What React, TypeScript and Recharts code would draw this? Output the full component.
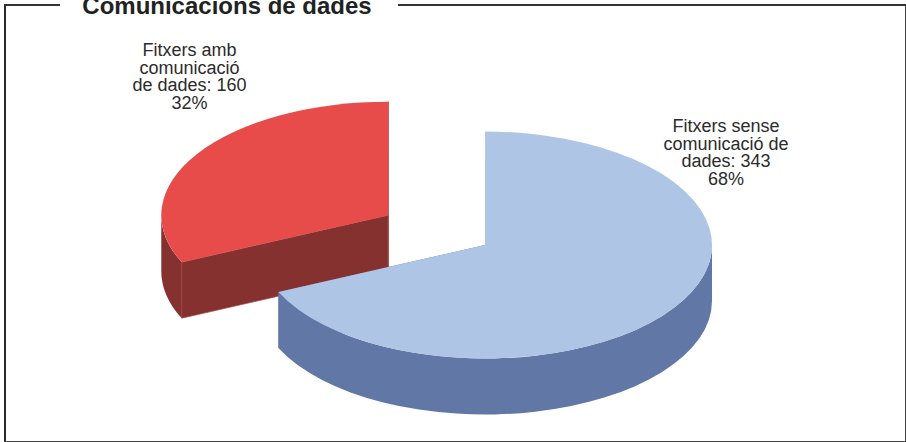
import React from "react";
import { PieChart, Pie } from "recharts";

const categories = ["Fitxers amb comunicació de dades", "Fitxers sense comunicació de dades"];
const values = [160, 343];
const topColors = ["#e84c4a", "#afc5e6"];
const wallColors = ["#853130", "#6177a5"];
const seamColors = ["#a94a48", "none"];
const labelLines = [
  ["Fitxers amb", "comunicació", "de dades: 160"],
  ["Fitxers sense", "comunicació de", "dades: 343"],
];
const title = "Comunicacions de dades";
const explode = [115, 0];

const rows = categories.map((name, i) => ({
  name,
  value: values[i],
  fill: topColors[i],
  wall: wallColors[i],
  seam: seamColors[i],
  explode: explode[i],
  lines: labelLines[i],
}));

const SQUASH = 0.5;
const EXPLODE_SQUASH = 0.48;
const DEPTH = 56;
const RAD = Math.PI / 180;

function Slice3D(props: any) {
  const { cx, cy, outerRadius: r, startAngle, endAngle, payload } = props;
  const row = payload ?? props;
  const start = Math.max(startAngle, endAngle);
  const end = Math.min(startAngle, endAngle);
  const mid = (start + end) / 2;
  const ox = (row.explode || 0) * Math.cos(mid * RAD);
  const oy = -(row.explode || 0) * EXPLODE_SQUASH * Math.sin(mid * RAD);
  const px = cx + ox;
  const py = cy + oy;
  const ry = r * SQUASH;
  const pt = (a: number, d = 0) => [px + r * Math.cos(a * RAD), py - ry * Math.sin(a * RAD) + d];
  const arc = (from: number, to: number, d = 0, sweep = 1) => {
    const [x, y] = pt(to, d);
    return `A${r} ${ry} 0 ${Math.abs(from - to) > 180 ? 1 : 0} ${sweep} ${x} ${y}`;
  };

  const walls: React.ReactNode[] = [];
  for (let k = -3; k <= 1; k++) {
    const hi = Math.min(start, 360 * k);
    const lo = Math.max(end, 360 * k - 180);
    if (hi > lo) {
      const [x0, y0] = pt(hi);
      const [x1, y1] = pt(lo, DEPTH);
      walls.push(
        <path
          key={"o" + k}
          fill={row.wall}
          d={`M${x0} ${y0} ${arc(hi, lo)} L${x1} ${y1} ${arc(lo, hi, DEPTH, 0)} Z`}
        />
      );
    }
  }
  const radial = (a: number, key: string) => {
    const [x, y] = pt(a);
    return (
      <path
        key={key}
        fill={row.wall}
        stroke={row.seam}
        strokeWidth={0.7}
        d={`M${px} ${py} L${x} ${y} L${x} ${y + DEPTH} L${px} ${py + DEPTH} Z`}
      />
    );
  };
  const [sx, sy] = pt(start);
  const [ex, ey] = pt(end);
  return (
    <g>
      {radial(start, "rs")}
      {radial(end, "re")}
      {walls}
      <path fill={row.fill} d={`M${px} ${py} L${sx} ${sy} ${arc(start, end)} L${ex} ${ey} Z`} />
    </g>
  );
}

const labelCentres = [
  { dx: -295.5, dy: -189 },
  { dx: 241, dy: -113 },
];

function renderLabel(props: any) {
  const { cx, cy, index, percent, payload } = props;
  const place = labelCentres[index];
  const row = payload ?? props;
  const lines: string[] = [...row.lines, `${Math.round(percent * 100)}%`];
  return (
    <text
      x={cx + place.dx}
      y={cy + place.dy}
      textAnchor="middle"
      fontFamily="'Liberation Sans', Arial, sans-serif"
      fontSize={18}
      fill="#2b2b2b"
      stroke="none"
    >
      {lines.map((l, i) => (
        <tspan key={i} x={cx + place.dx} dy={i === 0 ? 0 : 17.7}>
          {l}
        </tspan>
      ))}
    </text>
  );
}

const line = (s: React.CSSProperties): React.CSSProperties => ({ position: "absolute", ...s });

export default function App() {
  return (
    <div style={{ position: "absolute", left: 0, top: 0, width: 906, height: 442, overflow: "hidden", background: "#fff" }}>
      <div style={line({ left: 4, top: 4, width: 2, height: 438, background: "#2a2a2a" })} />
      <div style={line({ left: 4, top: 441, width: 902, height: 1, background: "#444" })} />
      <div style={line({ left: 905, top: 4, width: 1, height: 438, background: "#444" })} />
      <div style={line({ left: 4, top: 4, width: 56, height: 2, background: "#333" })} />
      <div style={line({ left: 398, top: 4, width: 508, height: 2, background: "#333" })} />
      <div
        style={line({
          left: 60,
          width: 334,
          top: -6,
          textAlign: "center",
          fontFamily: "'Liberation Sans', Arial, sans-serif",
          fontWeight: 700,
          fontSize: 24,
          lineHeight: "24px",
          color: "#222",
          whiteSpace: "nowrap",
        })}
      >
        {title}
      </div>
      <div style={line({ left: 0, top: 0 })}>
        <PieChart width={906} height={442} margin={{ top: 0, right: 0, bottom: 0, left: 0 }}>
          <Pie
            data={rows}
            dataKey="value"
            nameKey="name"
            cx={485}
            cy={245}
            outerRadius={227}
            startAngle={-155.5}
            endAngle={-515.5}
            stroke="none"
            paddingAngle={0}
            isAnimationActive={false}
            shape={Slice3D as any}
            label={renderLabel as any}
            labelLine={false}
          />
        </PieChart>
      </div>
    </div>
  );
}
